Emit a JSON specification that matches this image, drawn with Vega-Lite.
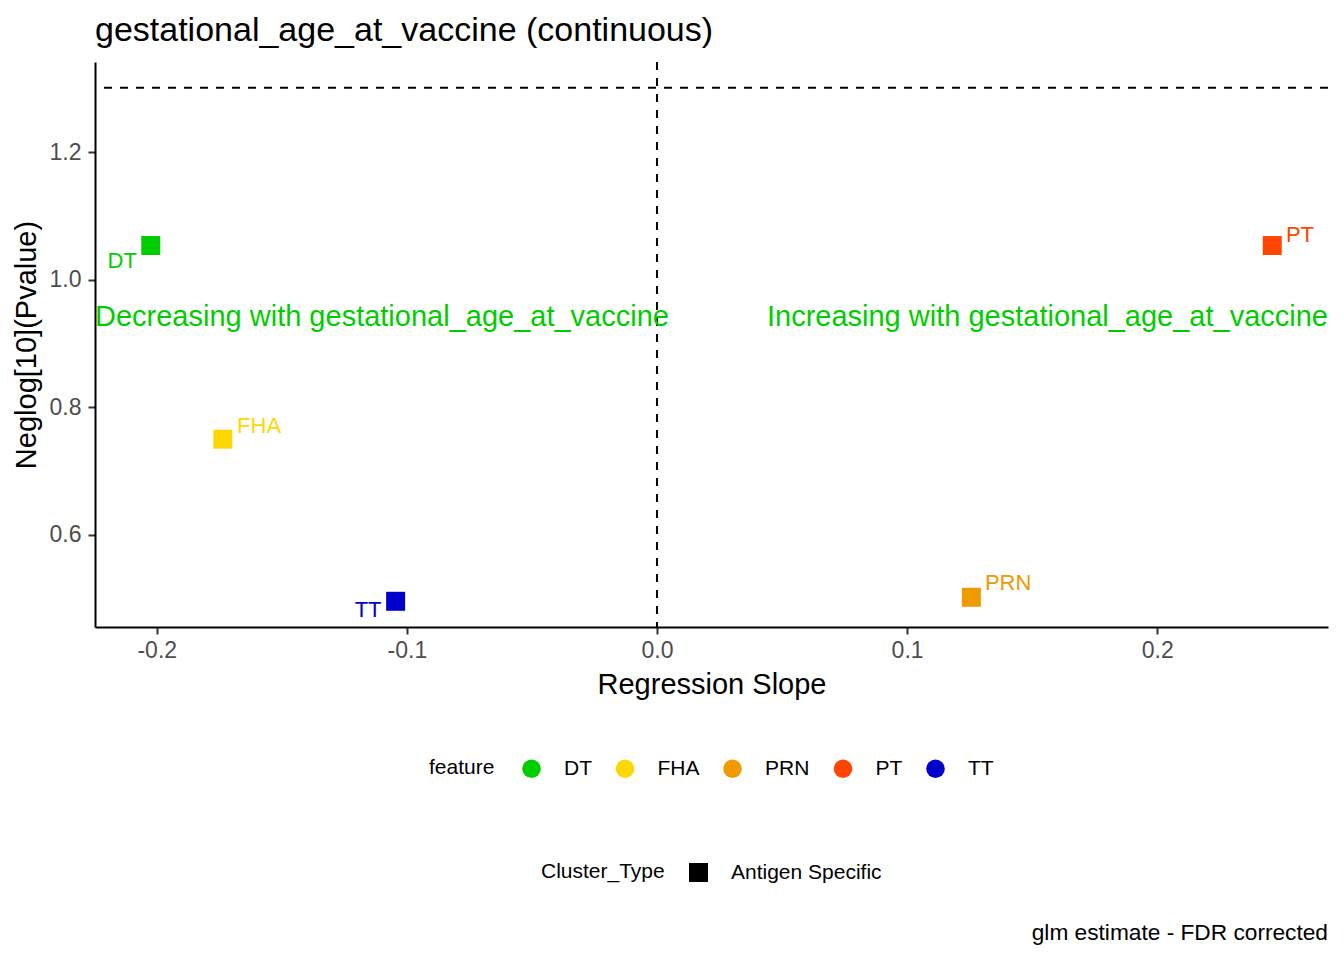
{
  "$schema": "https://vega.github.io/schema/vega-lite/v6.json",
  "width": 1233,
  "height": 565,
  "autosize": {"type": "none"},
  "padding": {"left": 95, "top": 62, "right": 16, "bottom": 333},
  "background": "white",
  "title": {
    "text": "gestational_age_at_vaccine (continuous)",
    "anchor": "start",
    "frame": "group",
    "fontSize": 34,
    "font": "Liberation Sans",
    "fontWeight": "normal",
    "color": "black",
    "baseline": "alphabetic",
    "offset": 22,
    "dy": 36
  },
  "config": {
    "view": {"stroke": null},
    "font": "Liberation Sans",
    "axis": {
      "grid": false,
      "domainColor": "black",
      "domainWidth": 2,
      "tickColor": "#333333",
      "tickWidth": 2,
      "tickSize": 7,
      "labelFont": "Liberation Sans",
      "labelFontSize": 23,
      "labelColor": "#4D4D4D",
      "titleFont": "Liberation Sans",
      "titleFontSize": 29,
      "titleFontWeight": "normal",
      "titleColor": "black"
    },
    "legend": {
      "labelFont": "Liberation Sans",
      "titleFont": "Liberation Sans",
      "labelFontSize": 21,
      "titleFontSize": 21,
      "titleFontWeight": "normal",
      "labelColor": "black",
      "titleColor": "black"
    }
  },
  "datasets": {
    "points": [
      {"feature": "DT", "Cluster_Type": "Antigen Specific", "x": -0.2024, "y": 1.0536},
      {"feature": "FHA", "Cluster_Type": "Antigen Specific", "x": -0.1736, "y": 0.750},
      {"feature": "PRN", "Cluster_Type": "Antigen Specific", "x": 0.1257, "y": 0.5022},
      {"feature": "PT", "Cluster_Type": "Antigen Specific", "x": 0.2460, "y": 1.0536},
      {"feature": "TT", "Cluster_Type": "Antigen Specific", "x": -0.1045, "y": 0.4959}
    ],
    "labels": [
      {"feature": "DT", "x": -0.2138, "y": 1.0288},
      {"feature": "FHA", "x": -0.1591, "y": 0.7703},
      {"feature": "PRN", "x": 0.1404, "y": 0.5249},
      {"feature": "PT", "x": 0.2571, "y": 1.0706},
      {"feature": "TT", "x": -0.1155, "y": 0.4826}
    ],
    "annotLeft": [{"label": "Decreasing with gestational_age_at_vaccine", "x": -0.2247, "y": 0.928}],
    "annotRight": [{"label": "Increasing with gestational_age_at_vaccine", "x": 0.2683, "y": 0.928}],
    "caption": [{"label": "glm estimate - FDR corrected", "x": 0.2683, "y": -0.0355}],
    "vline": [{"x": 0}],
    "hline": [{"y": 1.30103}]
  },
  "layer": [
    {
      "data": {"name": "vline"},
      "mark": {"type": "rule", "strokeDash": [8, 8], "strokeWidth": 2, "color": "black"},
      "encoding": {
        "x": {"field": "x", "type": "quantitative", "scale": {"domain": [-0.2247, 0.2683], "nice": false, "zero": false}}
      }
    },
    {
      "data": {"name": "hline"},
      "mark": {"type": "rule", "strokeDash": [8, 8], "strokeWidth": 2, "color": "black"},
      "encoding": {
        "y": {"field": "y", "type": "quantitative", "scale": {"domain": [0.4556, 1.3413], "nice": false, "zero": false}}
      }
    },
    {
      "data": {"name": "points"},
      "mark": {"type": "point", "filled": true, "size": 361, "opacity": 1, "strokeWidth": 0},
      "encoding": {
        "x": {
          "field": "x", "type": "quantitative",
          "scale": {"domain": [-0.2247, 0.2683], "nice": false, "zero": false},
          "axis": {
            "title": "Regression Slope",
            "values": [-0.2, -0.1, 0, 0.1, 0.2],
            "labelExpr": "datum.value < 0 ? '-' + format(-datum.value, '.1f') : format(datum.value, '.1f')",
            "labelPadding": 5,
            "titlePadding": 8
          }
        },
        "y": {
          "field": "y", "type": "quantitative",
          "scale": {"domain": [0.4556, 1.3413], "nice": false, "zero": false},
          "axis": {
            "title": "Neglog[10](Pvalue)",
            "values": [0.6, 0.8, 1.0, 1.2],
            "format": ".1f",
            "labelPadding": 7,
            "titlePadding": 8
          }
        },
        "color": {
          "field": "feature", "type": "nominal",
          "scale": {"domain": ["DT", "FHA", "PRN", "PT", "TT"], "range": ["#00CD00", "#FFD700", "#EE9A00", "#FF4500", "#0000CD"]},
          "legend": {
            "orient": "none", "legendX": 334, "legendY": 696,
            "direction": "horizontal", "titleOrient": "left",
            "symbolType": "circle", "symbolSize": 346, "symbolStrokeWidth": 0,
            "labelOffset": 22, "columnPadding": 22.5, "titlePadding": 26
          }
        },
        "shape": {
          "field": "Cluster_Type", "type": "nominal",
          "scale": {"domain": ["Antigen Specific"], "range": ["square"]},
          "legend": {
            "orient": "none", "legendX": 446, "legendY": 800,
            "direction": "horizontal", "titleOrient": "left",
            "symbolSize": 361, "symbolFillColor": "black", "symbolStrokeColor": "black", "symbolStrokeWidth": 0,
            "labelOffset": 22, "titlePadding": 23
          }
        }
      }
    },
    {
      "data": {"name": "labels"},
      "mark": {"type": "text", "fontSize": 22, "align": "center", "baseline": "middle", "font": "Liberation Sans"},
      "encoding": {
        "x": {"field": "x", "type": "quantitative", "scale": {"domain": [-0.2247, 0.2683], "nice": false, "zero": false}},
        "y": {"field": "y", "type": "quantitative", "scale": {"domain": [0.4556, 1.3413], "nice": false, "zero": false}},
        "text": {"field": "feature"},
        "color": {"field": "feature", "type": "nominal", "legend": null}
      }
    },
    {
      "data": {"name": "annotLeft"},
      "mark": {"type": "text", "fontSize": 29, "align": "left", "baseline": "alphabetic", "color": "#00CD00", "font": "Liberation Sans"},
      "encoding": {
        "x": {"field": "x", "type": "quantitative"},
        "y": {"field": "y", "type": "quantitative"},
        "text": {"field": "label"}
      }
    },
    {
      "data": {"name": "annotRight"},
      "mark": {"type": "text", "fontSize": 29, "align": "right", "baseline": "alphabetic", "color": "#00CD00", "font": "Liberation Sans"},
      "encoding": {
        "x": {"field": "x", "type": "quantitative"},
        "y": {"field": "y", "type": "quantitative"},
        "text": {"field": "label"}
      }
    },
    {
      "data": {"name": "caption"},
      "mark": {"type": "text", "fontSize": 22.7, "align": "right", "baseline": "alphabetic", "color": "black", "font": "Liberation Sans"},
      "encoding": {
        "x": {"field": "x", "type": "quantitative"},
        "y": {"field": "y", "type": "quantitative"},
        "text": {"field": "label"}
      }
    }
  ]
}
